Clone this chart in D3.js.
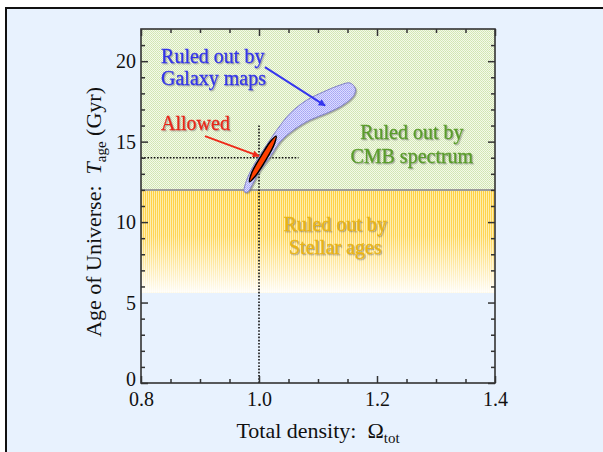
<!DOCTYPE html>
<html>
<head>
<meta charset="utf-8">
<script src="https://cdnjs.cloudflare.com/ajax/libs/d3/7.8.5/d3.min.js"></script>
<style>
  body { margin: 0; background: #fff; }
</style>
</head>
<body>
<script>
var SERIF = "Liberation Serif, Times New Roman, serif";

// Axis ticks
var xMajor = [0.8, 1.0, 1.2, 1.4],
    xMinor = [0.85, 0.9, 0.95, 1.05, 1.1, 1.15, 1.25, 1.3, 1.35],
    yMajor = [0, 5, 10, 15, 20],
    yMinor = [1, 2, 3, 4, 6, 7, 8, 9, 11, 12, 13, 14, 16, 17, 18, 19, 21];

// Excluded bands (Gyr)
var cmbBand = [12, 22],
    stellarBand = [5.6, 12];

// Galaxy-map contour (Omega, Gyr)
var galaxyX = [0.975, 0.979, 0.993, 1.007, 1.030, 1.053, 1.081, 1.109, 1.137, 1.154,
               1.163, 1.161, 1.142, 1.115, 1.086, 1.058, 1.036, 1.019, 1.002, 0.990, 0.981],
    galaxyY = [11.88, 12.61, 13.66, 14.47, 15.71, 16.77, 17.58, 18.09, 18.51, 18.65,
               18.32, 17.89, 17.27, 16.77, 16.34, 15.71, 14.99, 14.06, 13.23, 12.42, 11.88];

// Allowed region contour
var allowedX = [1.029, 1.026, 1.018, 1.011, 1.004, 0.994, 0.984, 0.987, 0.995, 1.002, 1.009, 1.019],
    allowedY = [15.34, 14.85, 14.25, 13.82, 13.40, 12.86, 12.50, 13.00, 13.59, 14.02, 14.44, 14.99];

// Reference lines
var vLineX = 1.0, vLineY = [0, 16],
    hLineY = 14, hLineX = [0.8, 1.067];

// Labels
var labelLines = [
  {text: ["Ruled out by", "Galaxy maps"], x: 0.834, y: [19.86, 18.49], anchor: "start", color: "#3434e8"},
  {text: ["Allowed"], x: 0.834, y: [15.71], anchor: "start", color: "#e8261a"},
  {text: ["Ruled out by", "CMB spectrum"], x: 1.259, y: [15.16, 13.66], anchor: "middle", color: "#5a9c2a"},
  {text: ["Ruled out by", "Stellar ages"], x: 1.129, y: [9.46, 8.01], anchor: "middle", color: "#e8b416"}
];
var arrows = [
  {from: [1.010, 19.63], to: [1.112, 17.24], color: "#3636ee"},
  {from: [0.9085, 15.34], to: [1.0, 14.1], color: "#ee2a1a"}
];

var W = 603, H = 452;
var margin = {top: 29, left: 141},
    width = 354,
    height = 354;

var svg = d3.select("body").append("svg")
            .attr("width", W)
            .attr("height", H)
            .attr("font-family", SERIF);

// outer slide frame
svg.append("rect")
   .attr("x", 6).attr("y", 8)
   .attr("width", W + 10).attr("height", H + 10)
   .attr("fill", "#e8f2fe")
   .attr("stroke", "#111")
   .attr("stroke-width", 2);

var defs = svg.append("defs");

var pg = defs.append("pattern").attr("id", "greenDots")
             .attr("patternUnits", "userSpaceOnUse").attr("width", 2).attr("height", 2);
pg.append("rect").attr("width", 2).attr("height", 2).attr("fill", "#f4f8ea");
pg.append("rect").attr("width", 1).attr("height", 1).attr("fill", "#cfe6ae");
pg.append("rect").attr("x", 1).attr("y", 1).attr("width", 1).attr("height", 1).attr("fill", "#d6e9ba");

var py = defs.append("pattern").attr("id", "yellowStripes")
             .attr("patternUnits", "userSpaceOnUse").attr("width", 2).attr("height", 2);
py.append("rect").attr("width", 2).attr("height", 2).attr("fill", "#ffeca8");
py.append("rect").attr("width", 1).attr("height", 2).attr("fill", "#ffd040");

var pb = defs.append("pattern").attr("id", "blueDots")
             .attr("patternUnits", "userSpaceOnUse").attr("width", 2).attr("height", 2);
pb.append("rect").attr("width", 2).attr("height", 2).attr("fill", "#dcdcff");
pb.append("rect").attr("width", 1).attr("height", 1).attr("fill", "#a4a4f4");
pb.append("rect").attr("x", 1).attr("y", 1).attr("width", 1).attr("height", 1).attr("fill", "#b0b0f6");

var fade = defs.append("linearGradient").attr("id", "fade")
               .attr("x1", 0).attr("y1", 0).attr("x2", 0).attr("y2", 1);
fade.append("stop").attr("offset", "0%").attr("stop-color", "#fff").attr("stop-opacity", 0);
fade.append("stop").attr("offset", "45%").attr("stop-color", "#fff").attr("stop-opacity", 0.12);
fade.append("stop").attr("offset", "100%").attr("stop-color", "#fff").attr("stop-opacity", 0.96);

var shadow = defs.append("filter").attr("id", "shadow")
                 .attr("x", "-10%").attr("y", "-20%").attr("width", "130%").attr("height", "150%");
shadow.append("feDropShadow").attr("dx", 1.2).attr("dy", 1.2).attr("stdDeviation", 0.6)
      .attr("flood-color", "#666").attr("flood-opacity", 0.5);

arrows.forEach(function(a, i) {
  defs.append("marker").attr("id", "head" + i)
      .attr("viewBox", "0 0 10 10").attr("refX", 9).attr("refY", 5)
      .attr("markerWidth", 8).attr("markerHeight", 7)
      .attr("markerUnits", "userSpaceOnUse")
      .attr("orient", "auto")
      .append("path").attr("d", "M0,0L10,5L0,10z").attr("fill", a.color);
});

var x = d3.scaleLinear().domain([0.8, 1.4]).range([0, width]);
var y = d3.scaleLinear().domain([0, 22]).range([height, 0]);

var plot = svg.append("g")
              .attr("transform", "translate(" + margin.left + "," + margin.top + ")");

// bands
plot.append("rect")
    .attr("x", 0).attr("width", width)
    .attr("y", y(cmbBand[1])).attr("height", y(cmbBand[0]) - y(cmbBand[1]))
    .attr("fill", "url(#greenDots)");
plot.append("rect")
    .attr("x", 0).attr("width", width)
    .attr("y", y(stellarBand[1])).attr("height", y(stellarBand[0]) - y(stellarBand[1]))
    .attr("fill", "url(#yellowStripes)");
plot.append("rect")
    .attr("x", 0).attr("width", width)
    .attr("y", y(stellarBand[1])).attr("height", y(stellarBand[0]) - y(stellarBand[1]))
    .attr("fill", "url(#fade)");
plot.append("line")
    .attr("x1", 0).attr("x2", width)
    .attr("y1", y(cmbBand[0])).attr("y2", y(cmbBand[0]))
    .attr("stroke", "#9c9c9c").attr("stroke-width", 2);

// reference lines
plot.append("line")
    .attr("x1", x(vLineX)).attr("x2", x(vLineX))
    .attr("y1", y(vLineY[0])).attr("y2", y(vLineY[1]))
    .attr("stroke", "#111").attr("stroke-width", 1.6).attr("stroke-dasharray", "1.6,1.6");
plot.append("line")
    .attr("x1", x(hLineX[0])).attr("x2", x(hLineX[1]))
    .attr("y1", y(hLineY)).attr("y2", y(hLineY))
    .attr("stroke", "#111").attr("stroke-width", 1.6).attr("stroke-dasharray", "1.6,1.6");

// contours
var contour = d3.line()
                .x(function(d) { return x(d[0]); })
                .y(function(d) { return y(d[1]); })
                .curve(d3.curveCatmullRomClosed.alpha(0.5));

plot.append("path")
    .datum(d3.zip(galaxyX, galaxyY))
    .attr("d", contour)
    .attr("fill", "url(#blueDots)")
    .attr("stroke", "#8080c4")
    .attr("stroke-width", 1)
    .attr("filter", "url(#shadow)");

plot.append("path")
    .datum(d3.zip(allowedX, allowedY))
    .attr("d", contour)
    .attr("fill", "#ff4000")
    .attr("stroke", "#000")
    .attr("stroke-width", 1.5);

// arrows
arrows.forEach(function(a, i) {
  plot.append("line")
      .attr("x1", x(a.from[0])).attr("y1", y(a.from[1]))
      .attr("x2", x(a.to[0])).attr("y2", y(a.to[1]))
      .attr("stroke", a.color).attr("stroke-width", 2)
      .attr("marker-end", "url(#head" + i + ")");
});

// labels
labelLines.forEach(function(l) {
  l.text.forEach(function(t, j) {
    plot.append("text")
        .attr("x", x(l.x)).attr("y", y(l.y[j]))
        .attr("text-anchor", l.anchor)
        .attr("font-family", SERIF)
        .attr("font-size", 20)
        .attr("fill", l.color)
        .attr("stroke", l.color)
        .attr("stroke-width", 0.3)
        .attr("filter", "url(#shadow)")
        .text(t);
  });
});

// axes: ticks on all four sides, pointing inward
function styleAxis(g) {
  g.select(".domain").remove();
  g.selectAll(".tick line").attr("stroke", "#333").attr("stroke-width", 1.5);
  g.selectAll(".tick text").attr("font-size", 20).attr("fill", "#111")
   .attr("font-family", SERIF);
}

plot.append("g").attr("transform", "translate(0," + height + ")")
    .call(d3.axisBottom(x).tickValues(xMajor).tickFormat(d3.format(".1f"))
            .tickSizeInner(-7).tickSizeOuter(0).tickPadding(9))
    .call(styleAxis);
plot.append("g").attr("transform", "translate(0," + height + ")")
    .call(d3.axisBottom(x).tickValues(xMinor).tickFormat("").tickSizeInner(-4).tickSizeOuter(0))
    .call(styleAxis);
plot.append("g")
    .call(d3.axisTop(x).tickValues(xMajor).tickFormat("").tickSizeInner(-7).tickSizeOuter(0))
    .call(styleAxis);
plot.append("g")
    .call(d3.axisTop(x).tickValues(xMinor).tickFormat("").tickSizeInner(-4).tickSizeOuter(0))
    .call(styleAxis);

plot.append("g")
    .call(d3.axisLeft(y).tickValues(yMajor).tickFormat(d3.format("d"))
            .tickSizeInner(-7).tickSizeOuter(0).tickPadding(5))
    .call(styleAxis)
    .call(function(g) {
      g.selectAll(".tick text").attr("dy", function(d) { return d === 0 ? "0.12em" : "0.34em"; });
    });
plot.append("g")
    .call(d3.axisLeft(y).tickValues(yMinor).tickFormat("").tickSizeInner(-4).tickSizeOuter(0))
    .call(styleAxis);
plot.append("g").attr("transform", "translate(" + width + ",0)")
    .call(d3.axisRight(y).tickValues(yMajor).tickFormat("").tickSizeInner(-7).tickSizeOuter(0))
    .call(styleAxis);
plot.append("g").attr("transform", "translate(" + width + ",0)")
    .call(d3.axisRight(y).tickValues(yMinor).tickFormat("").tickSizeInner(-4).tickSizeOuter(0))
    .call(styleAxis);

// plot frame
plot.append("rect")
    .attr("width", width).attr("height", height)
    .attr("fill", "none").attr("stroke", "#333").attr("stroke-width", 1.6);

// axis titles
var xt = svg.append("text")
            .attr("x", 318).attr("y", 438)
            .attr("text-anchor", "middle")
            .attr("font-family", SERIF)
            .attr("font-size", 22).attr("fill", "#111");
xt.append("tspan").text("Total density:\u00a0\u00a0\u03A9");
xt.append("tspan").attr("font-size", 15).attr("dy", 5).text("tot");

var yt = svg.append("text")
            .attr("transform", "translate(101,212) rotate(-90)")
            .attr("text-anchor", "middle")
            .attr("font-family", SERIF)
            .attr("font-size", 22).attr("fill", "#111");
yt.append("tspan").text("Age of Universe:\u00a0\u00a0");
yt.append("tspan").attr("font-style", "italic").text("T");
yt.append("tspan").attr("font-size", 15).attr("dy", 5).text("age");
yt.append("tspan").attr("dy", -5).text("\u00a0(Gyr)");
</script>
</body>
</html>
